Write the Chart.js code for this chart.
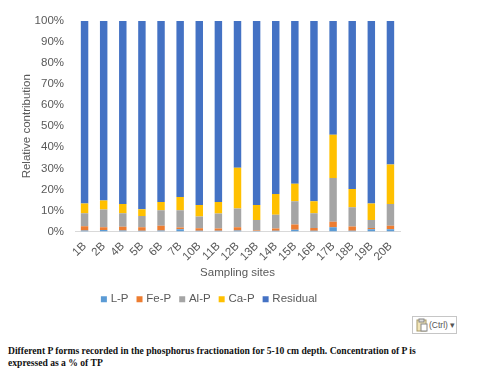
<!DOCTYPE html>
<html>
<head>
<meta charset="utf-8">
<script src="https://cdn.jsdelivr.net/npm/chart.js@4"></script>
<style>
  html, body { margin: 0; padding: 0; background: #fff; width: 483px; height: 368px; overflow: hidden; }
  #wrap { position: absolute; left: 0; top: 0; width: 422px; height: 315px; }
  #ctrl { position: absolute; left: 412px; top: 316px; width: 43px; height: 16px; border: 1px solid #c6c6c6;
    font: 8.5px "Liberation Sans", sans-serif; color: #555; line-height: 16px; white-space: nowrap; }
  #ctrl svg { position: absolute; left: 3px; top: 1px; }
  #ctrl span { position: absolute; left: 16px; top: 0; }
  #caption { position: absolute; left: 8px; top: 345px; width: 470px;
    font: bold 9.6px/11.5px "Liberation Serif", serif; color: #111; }
</style>
</head>
<body>
<div id="wrap"><canvas id="chart"></canvas></div>
<div id="ctrl">
  <svg width="12" height="14" viewBox="0 0 12 14"><rect x="1" y="2" width="9" height="11" fill="#f3e6b8" stroke="#a89a6a"/><rect x="3" y="1" width="5" height="3" fill="#ddd" stroke="#888"/><rect x="5" y="6" width="6" height="7" fill="#fff" stroke="#888"/></svg>
  <span>(Ctrl) ▾</span>
</div>
<div id="caption">Different P forms recorded in the phosphorus fractionation for 5-10 cm depth. Concentration of P is<br>expressed as a % of TP</div>
<script>
const sites = ["1B","2B","4B","5B","6B","7B","10B","11B","12B","13B","14B","15B","16B","17B","18B","19B","20B"];
const lP = [0.5,0.7,0.5,0.4,0.5,1.0,0.3,0.3,0.5,0.2,0.3,0.8,0.3,2.0,0.3,1.0,1.0];
const feP = [2.0,1.3,1.7,1.6,2.2,0.9,1.2,1.1,1.5,0.3,1.1,2.5,1.4,2.6,2.1,0.7,1.7];
const alP = [6.2,8.4,6.5,5.4,7.4,8.2,5.6,7.1,8.9,5.0,6.6,11.1,7.0,20.8,9.1,3.8,10.3];
const caP = [4.6,4.3,4.4,3.2,3.9,6.3,5.5,5.5,19.4,7.1,9.8,8.3,5.7,20.6,8.7,7.8,18.8];
const residual = [86.7,85.3,86.9,89.4,86.0,83.6,87.4,86.0,69.7,87.4,82.2,77.3,85.6,54.0,79.8,86.7,68.2];
const yTicks = ["0%","10%","20%","30%","40%","50%","60%","70%","80%","90%","100%"];

const textColor = "#595959";
const fontFamily = '"Liberation Sans", Arial, sans-serif';
const fontSize = 11.5;

const makeSet = (label, data, color) => ({
  label: label,
  data: data,
  backgroundColor: color,
  borderWidth: 0,
  barPercentage: 0.39,
  categoryPercentage: 1,
});

new Chart(document.getElementById("chart"), {
  type: "bar",
  data: {
    labels: sites,
    datasets: [
      makeSet("L-P", lP, "#5b9bd5"),
      makeSet("Fe-P", feP, "#ed7d31"),
      makeSet("Al-P", alP, "#a5a5a5"),
      makeSet("Ca-P", caP, "#ffc000"),
      makeSet("Residual", residual, "#4472c4"),
    ],
  },
  options: {
    responsive: true,
    maintainAspectRatio: false,
    animation: false,
    layout: { padding: { left: 20, right: 22, top: 21, bottom: 0 } },
    plugins: {
      tooltip: { enabled: false },
      legend: {
        position: "bottom",
        labels: {
          usePointStyle: true,
          pointStyle: "rect",
          boxWidth: 2,
          boxHeight: 6,
          padding: 10,
          color: textColor,
          font: { family: fontFamily, size: fontSize },
        },
      },
    },
    scales: {
      x: {
        stacked: true,
        grid: { display: false, drawTicks: false },
        border: { color: "#d9d9d9" },
        title: { display: true, text: "Sampling sites", color: textColor, font: { family: fontFamily, size: fontSize }, padding: { top: -6, bottom: 4 } },
        ticks: { color: textColor, font: { family: fontFamily, size: fontSize }, minRotation: 45, maxRotation: 45, padding: 8, autoSkip: false },
      },
      y: {
        stacked: true,
        min: 0,
        max: 100,
        grid: { display: false, drawTicks: false },
        border: { display: false },
        title: { display: true, text: "Relative contribution", color: textColor, font: { family: fontFamily, size: fontSize }, padding: { top: 0, bottom: 2 } },
        ticks: {
          stepSize: 10,
          color: textColor,
          font: { family: fontFamily, size: fontSize },
          padding: 11,
          callback: (value) => yTicks[value / 10],
        },
        afterFit: (scale) => { scale.width = 55; },
      },
    },
  },
});
</script>
</body>
</html>
